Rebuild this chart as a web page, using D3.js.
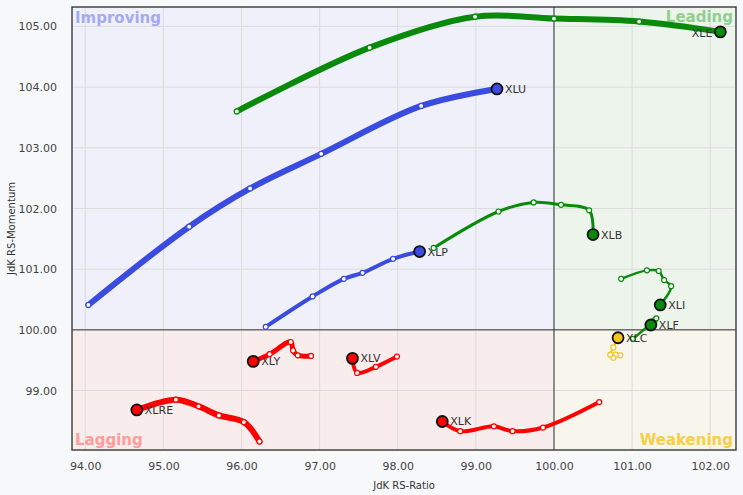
<!DOCTYPE html>
<html><head><meta charset="utf-8">
<script src="https://cdn.jsdelivr.net/npm/d3@7"></script>
<style>
body{margin:0;background:#f7f8fa;}
svg{display:block;}
text{font-family:"DejaVu Sans",Verdana,sans-serif;}
</style></head>
<body>
<svg id="c" width="743" height="495"></svg>
<script>
// ---- data ----
const xTicks = [94, 95, 96, 97, 98, 99, 100, 101, 102];
const yTicks = [99, 100, 101, 102, 103, 104, 105];
const tickers = ["XLE", "XLU", "XLP", "XLB", "XLI", "XLF", "XLC", "XLY", "XLV", "XLRE", "XLK"];
const xleX = [95.94, 97.64, 98.99, 100.00, 101.09, 102.13];
const xleY = [103.60, 104.65, 105.16, 105.13, 105.08, 104.91];
const xluX = [94.04, 95.33, 96.11, 97.02, 98.30, 99.27];
const xluY = [100.41, 101.70, 102.33, 102.90, 103.69, 103.97];
const xlpX = [96.31, 96.91, 97.31, 97.55, 97.94, 98.28];
const xlpY = [100.05, 100.55, 100.84, 100.94, 101.17, 101.29];
const xlbX = [98.46, 99.29, 99.74, 100.09, 100.45, 100.50];
const xlbY = [101.35, 101.95, 102.10, 102.06, 101.97, 101.57];
const xliX = [100.86, 101.19, 101.34, 101.41, 101.50, 101.36];
const xliY = [100.84, 100.98, 100.97, 100.82, 100.72, 100.41];
const xlfX = [101.01, 101.29, 101.31, 101.24];
const xlfY = [99.85, 100.16, 100.19, 100.08];
const xlcX = [100.85, 100.79, 100.76, 100.72, 100.76, 100.82];
const xlcY = [99.58, 99.59, 99.54, 99.59, 99.71, 99.87];
const xlyX = [96.89, 96.72, 96.66, 96.63, 96.36, 96.15];
const xlyY = [99.57, 99.58, 99.66, 99.80, 99.60, 99.48];
const xlvX = [97.99, 97.72, 97.48, 97.42];
const xlvY = [99.56, 99.39, 99.29, 99.53];
const xlreX = [96.23, 96.03, 95.71, 95.45, 95.16, 94.66];
const xlreY = [98.16, 98.48, 98.59, 98.74, 98.85, 98.68];
const xlkX = [100.58, 99.86, 99.47, 99.23, 98.80, 98.57];
const xlkY = [98.81, 98.39, 98.33, 98.41, 98.33, 98.49];
const quadrantNames = ["Improving", "Leading", "Lagging", "Weakening"];

// ---- styles ----
const GREEN = "#0a8a0a", BLUE = "#3a4be0", RED = "#ff0000", YEL = "#f5c518";
const seriesStyle = {
  XLE: {c: GREEN, w: 6, labelLeft: true},
  XLU: {c: BLUE, w: 6},
  XLP: {c: BLUE, w: 4},
  XLB: {c: GREEN, w: 3},
  XLI: {c: GREEN, w: 2.5},
  XLF: {c: GREEN, w: 2.5},
  XLC: {c: YEL, w: 2},
  XLY: {c: RED, w: 5},
  XLV: {c: RED, w: 4},
  XLRE: {c: RED, w: 6},
  XLK: {c: RED, w: 4}
};
const seriesData = {
  XLE: [xleX, xleY], XLU: [xluX, xluY], XLP: [xlpX, xlpY], XLB: [xlbX, xlbY],
  XLI: [xliX, xliY], XLF: [xlfX, xlfY], XLC: [xlcX, xlcY], XLY: [xlyX, xlyY],
  XLV: [xlvX, xlvY], XLRE: [xlreX, xlreY], XLK: [xlkX, xlkY]
};

const L = 72, R = 736, T = 7, B = 450;
const x = d3.scaleLinear().domain([93.83, 102.33]).range([L, R]);
const y = d3.scaleLinear().domain([98.02, 105.32]).range([B, T]);
const svg = d3.select("#c");

// quadrant backgrounds
const quads = [
  {x0: 93.83, x1: 100, y0: 100, y1: 105.32, fill: "#eff0f9"},
  {x0: 100, x1: 102.33, y0: 100, y1: 105.32, fill: "#ecf4ec"},
  {x0: 93.83, x1: 100, y0: 98.02, y1: 100, fill: "#f9ecec"},
  {x0: 100, x1: 102.33, y0: 98.02, y1: 100, fill: "#f8f5ec"}
];
svg.selectAll("rect.q").data(quads).enter().append("rect")
  .attr("x", d => x(d.x0)).attr("y", d => y(d.y1))
  .attr("width", d => x(d.x1) - x(d.x0)).attr("height", d => y(d.y0) - y(d.y1))
  .attr("fill", d => d.fill);

// grid
const grid = svg.append("g");
grid.selectAll("line.gx").data(xTicks).enter().append("line")
  .attr("x1", d => x(d)).attr("x2", d => x(d)).attr("y1", T).attr("y2", B)
  .attr("stroke", "#dcdcdc").attr("stroke-width", 1);
grid.selectAll("line.gy").data(yTicks).enter().append("line")
  .attr("y1", d => y(d)).attr("y2", d => y(d)).attr("x1", L).attr("x2", R)
  .attr("stroke", "#dcdcdc").attr("stroke-width", 1);

// center lines
svg.append("line").attr("x1", x(100)).attr("x2", x(100)).attr("y1", T).attr("y2", B).attr("stroke", "#333").attr("stroke-width", 1);
svg.append("line").attr("y1", y(100)).attr("y2", y(100)).attr("x1", L).attr("x2", R).attr("stroke", "#333").attr("stroke-width", 1);

// quadrant labels
const ql = [
  {t: quadrantNames[0], x: L + 3, y: T + 16, a: "start", c: "#a3abf2"},
  {t: quadrantNames[1], x: R - 3, y: T + 15, a: "end", c: "#8fd08f"},
  {t: quadrantNames[2], x: L + 3, y: B - 5, a: "start", c: "#ff9c9c"},
  {t: quadrantNames[3], x: R - 3, y: B - 5, a: "end", c: "#f6cf47"}
];
svg.selectAll("text.ql").data(ql).enter().append("text")
  .attr("x", d => d.x).attr("y", d => d.y).attr("text-anchor", d => d.a)
  .attr("fill", d => d.c).attr("font-size", 15).attr("font-weight", "bold")
  .text(d => d.t);

// axes
const xa = svg.append("g").attr("transform", `translate(0,${B})`)
  .call(d3.axisBottom(x).tickValues(xTicks).tickFormat(d3.format(".2f")).tickSize(0).tickPadding(12));
const ya = svg.append("g").attr("transform", `translate(${L},0)`)
  .call(d3.axisLeft(y).tickValues(yTicks).tickFormat(d3.format(".2f")).tickSize(0).tickPadding(15));
[xa, ya].forEach(g => {
  g.select(".domain").remove();
  g.selectAll("text").attr("font-size", 11).attr("fill", "#444").attr("font-family", "'DejaVu Sans',Verdana,sans-serif");
});

// border
svg.append("rect").attr("x", L).attr("y", T).attr("width", R - L).attr("height", B - T)
  .attr("fill", "none").attr("stroke", "#444").attr("stroke-width", 1.5);

// axis titles
svg.append("text").attr("x", (L + R) / 2).attr("y", 489).attr("text-anchor", "middle")
  .attr("font-size", 10).attr("fill", "#333").text("JdK RS-Ratio");
svg.append("text").attr("transform", `translate(15,${(T + B) / 2}) rotate(-90)`).attr("text-anchor", "middle")
  .attr("font-size", 10).attr("fill", "#333").text("JdK RS-Momentum");

// series
const line = d3.line().x(d => x(d[0])).y(d => y(d[1])).curve(d3.curveCatmullRom.alpha(0.5));
const plot = svg.append("g");
tickers.forEach(t => {
  const [xs, ys] = seriesData[t];
  const pts = xs.map((v, i) => [v, ys[i]]);
  const s = seriesStyle[t];
  const g = plot.append("g");
  g.append("path").datum(pts).attr("d", line).attr("fill", "none")
    .attr("stroke", s.c).attr("stroke-width", s.w).attr("stroke-linecap", "round").attr("stroke-linejoin", "round");
  g.selectAll("circle.p").data(pts.slice(0, -1)).enter().append("circle")
    .attr("cx", d => x(d[0])).attr("cy", d => y(d[1])).attr("r", 2.5)
    .attr("fill", "#fff").attr("stroke", s.c).attr("stroke-width", 1.2);
  const h = pts[pts.length - 1];
  g.append("circle").attr("cx", x(h[0])).attr("cy", y(h[1])).attr("r", 5.5)
    .attr("fill", s.c).attr("stroke", "#111").attr("stroke-width", 1.8);
  g.append("text").attr("x", x(h[0]) + (s.labelLeft ? -8 : 8)).attr("y", y(h[1]) + (s.labelLeft ? 5 : 4))
    .attr("text-anchor", s.labelLeft ? "end" : "start")
    .attr("font-size", 11).attr("fill", "#333").text(t);
});
</script>
</body></html>
